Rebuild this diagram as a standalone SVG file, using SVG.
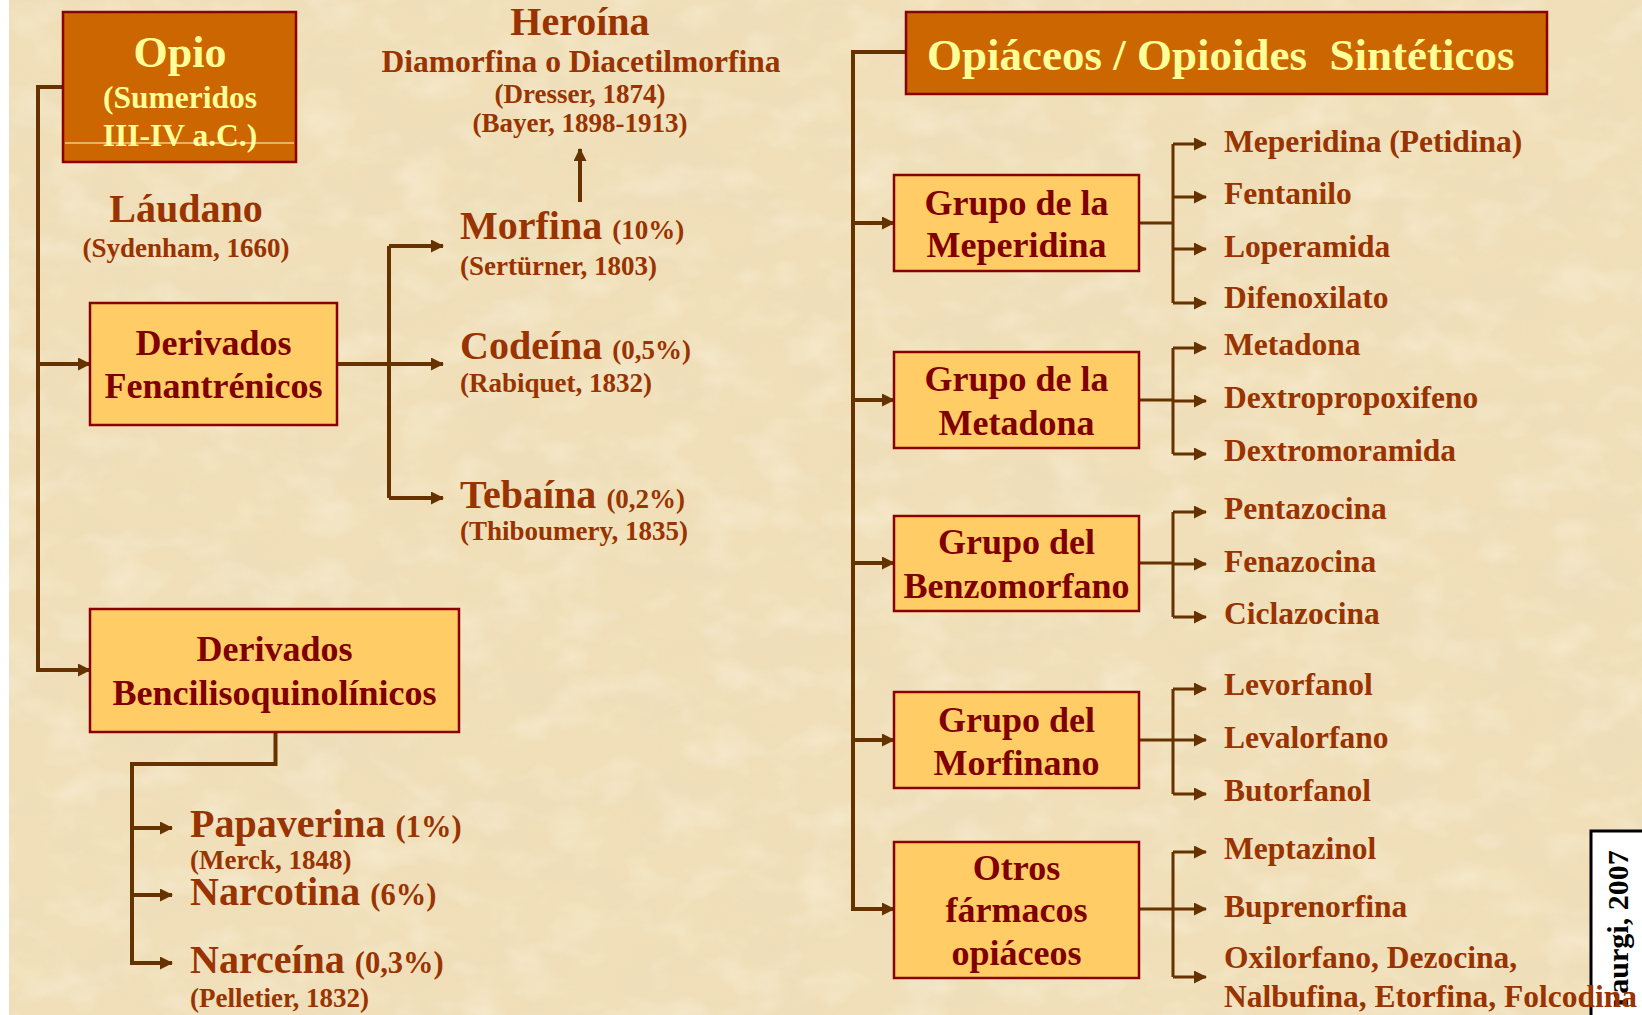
<svg xmlns="http://www.w3.org/2000/svg" width="1642" height="1015" viewBox="0 0 1642 1015">
<style>
text{font-family:"Liberation Serif","Times New Roman",serif;font-weight:bold}
.bx{fill:#FFCC66;stroke:#8B0000;stroke-width:2.5}
.dk{fill:#CC6600;stroke:#8B0000;stroke-width:2.5}
.bt{fill:#800000;font-size:36px;text-anchor:middle}
.it{fill:#993300;font-size:31.5px}
.nm{fill:#993300;font-size:40px}
.sm{fill:#993300;font-size:27px}
.mid{text-anchor:middle}
.yt{fill:#FFFF99;text-anchor:middle}
.ln{stroke:#663300;fill:none;stroke-width:4}
.br{stroke:#663300;fill:none;stroke-width:3}
.ar{marker-end:url(#ah)}
</style>
<defs>
<marker id="ah" markerWidth="14" markerHeight="14" refX="12" refY="6.5" markerUnits="userSpaceOnUse" orient="auto">
<path d="M0,0 L13,6.5 L0,13 z" fill="#663300"/>
</marker>
<filter id="paper" x="0" y="0" width="100%" height="100%">
<feTurbulence type="fractalNoise" baseFrequency="0.011 0.018" numOctaves="4" seed="7" result="n"/>
<feColorMatrix in="n" type="matrix" values="0 0 0 0 0.84  0 0 0 0 0.72  0 0 0 0 0.50  1.6 0 0 0 -0.62"/>
</filter>
<filter id="paper2" x="0" y="0" width="100%" height="100%">
<feTurbulence type="fractalNoise" baseFrequency="0.02 0.03" numOctaves="3" seed="11" result="n"/>
<feColorMatrix in="n" type="matrix" values="0 0 0 0 1  0 0 0 0 0.96  0 0 0 0 0.85  0 1.5 0 0 -0.68"/>
</filter>
</defs>
<rect x="0" y="0" width="1642" height="1015" fill="#FFFFFF"/>
<rect x="9" y="0" width="1633" height="1015" fill="#F0DFB8"/>
<rect x="9" y="0" width="1633" height="1015" filter="url(#paper)" opacity="0.75"/>
<rect x="9" y="0" width="1633" height="1015" filter="url(#paper2)" opacity="0.5"/>

<g id="connectors">
<path class="ln" d="M63,87 H38 V670 H90" marker-end="url(#ah)"/>
<path class="ln ar" d="M38,364 H90"/>
<path class="ln ar" d="M337,364 H443"/>
<path class="ln" d="M389,246 V498"/>
<path class="ln ar" d="M389,246 H443"/>
<path class="ln ar" d="M389,498 H443"/>
<path class="ln ar" d="M580,202 V149"/>
<path class="ln" d="M275.5,732 V764 H132 V963 H172" marker-end="url(#ah)"/>
<path class="ln ar" d="M132,828 H172"/>
<path class="ln ar" d="M132,895 H172"/>
<path class="ln" d="M906,52 H853 V909 H894" marker-end="url(#ah)"/>
<path class="ln ar" d="M853,223 H894"/>
<path class="ln ar" d="M853,400 H894"/>
<path class="ln ar" d="M853,563 H894"/>
<path class="ln ar" d="M853,740 H894"/>
<path class="br" d="M1139,223 H1173 M1173,144 V303"/>
<path class="br ar" d="M1173,144 H1206"/>
<path class="br ar" d="M1173,197 H1206"/>
<path class="br ar" d="M1173,249 H1206"/>
<path class="br ar" d="M1173,303 H1206"/>
<path class="br" d="M1139,400 H1173 M1173,348 V454"/>
<path class="br ar" d="M1173,348 H1206"/>
<path class="br ar" d="M1173,401 H1206"/>
<path class="br ar" d="M1173,454 H1206"/>
<path class="br" d="M1139,563 H1173 M1173,512 V617"/>
<path class="br ar" d="M1173,512 H1206"/>
<path class="br ar" d="M1173,564 H1206"/>
<path class="br ar" d="M1173,617 H1206"/>
<path class="br" d="M1139,740 H1173 M1173,689 V794"/>
<path class="br ar" d="M1173,689 H1206"/>
<path class="br ar" d="M1173,740 H1206"/>
<path class="br ar" d="M1173,794 H1206"/>
<path class="br" d="M1139,909 H1173 M1173,852 V977"/>
<path class="br ar" d="M1173,852 H1206"/>
<path class="br ar" d="M1173,909 H1206"/>
<path class="br ar" d="M1173,977 H1206"/>
</g>

<g id="opio">
<rect class="dk" x="63" y="12" width="233" height="150"/>
<text class="yt" x="180" y="67" font-size="44">Opio</text>
<text class="yt" x="180" y="108" font-size="31.5">(Sumeridos</text>
<text class="yt" x="180" y="146" font-size="31.5">III-IV a.C.)</text>
<line x1="65" y1="143" x2="294" y2="143" stroke="#FFFFCC" stroke-width="1"/>
</g>

<g id="laudano">
<text class="nm mid" x="186" y="222">Láudano</text>
<text class="sm mid" x="186" y="257">(Sydenham, 1660)</text>
</g>

<g id="heroina">
<text class="nm mid" x="580" y="35">Heroína</text>
<text class="it mid" x="581" y="72">Diamorfina o Diacetilmorfina</text>
<text class="sm mid" x="580" y="103">(Dresser, 1874)</text>
<text class="sm mid" x="580" y="132">(Bayer, 1898-1913)</text>
</g>

<g id="fenantrenicos">
<rect class="bx" x="90" y="303" width="247" height="122"/>
<text class="bt" x="213.5" y="355">Derivados</text>
<text class="bt" x="213.5" y="398">Fenantrénicos</text>
</g>

<g id="morfina">
<text class="nm" x="460" y="239">Morfina <tspan font-size="27">(10%)</tspan></text>
<text class="sm" x="460" y="275">(Sertürner, 1803)</text>
</g>
<g id="codeina">
<text class="nm" x="460" y="359">Codeína <tspan font-size="27">(0,5%)</tspan></text>
<text class="sm" x="460" y="392">(Rabiquet, 1832)</text>
</g>
<g id="tebaina">
<text class="nm" x="460" y="508">Tebaína <tspan font-size="27">(0,2%)</tspan></text>
<text class="sm" x="460" y="540">(Thiboumery, 1835)</text>
</g>

<g id="bencilisoquinolinicos">
<rect class="bx" x="90" y="609" width="369" height="123"/>
<text class="bt" x="274.5" y="661">Derivados</text>
<text class="bt" x="274.5" y="705">Bencilisoquinolínicos</text>
</g>

<g id="papaverina">
<text class="nm" x="190" y="837">Papaverina <tspan font-size="30.5">(1%)</tspan></text>
<text class="sm" x="190" y="869">(Merck, 1848)</text>
</g>
<g id="narcotina">
<text class="nm" x="190" y="905">Narcotina <tspan font-size="30.5">(6%)</tspan></text>
</g>
<g id="narceina">
<text class="nm" x="190" y="973">Narceína <tspan font-size="30.5">(0,3%)</tspan></text>
<text class="sm" x="190" y="1007">(Pelletier, 1832)</text>
</g>

<g id="sinteticos">
<rect class="dk" x="906" y="12" width="641" height="82"/>
<text x="927" y="70" fill="#FFFF99" font-size="45">Opiáceos / Opioides&#160; Sintéticos</text>
</g>

<g id="meperidina">
<rect class="bx" x="894" y="175" width="245" height="96"/>
<text class="bt" x="1016.5" y="215">Grupo de la</text>
<text class="bt" x="1016.5" y="257">Meperidina</text>
</g>
<g id="meperidina-items">
<text class="it" x="1224" y="152">Meperidina (Petidina)</text>
<text class="it" x="1224" y="204">Fentanilo</text>
<text class="it" x="1224" y="257">Loperamida</text>
<text class="it" x="1224" y="308">Difenoxilato</text>
</g>

<g id="metadona">
<rect class="bx" x="894" y="352" width="245" height="96"/>
<text class="bt" x="1016.5" y="391">Grupo de la</text>
<text class="bt" x="1016.5" y="435">Metadona</text>
</g>
<g id="metadona-items">
<text class="it" x="1224" y="355">Metadona</text>
<text class="it" x="1224" y="408">Dextropropoxifeno</text>
<text class="it" x="1224" y="461">Dextromoramida</text>
</g>

<g id="benzomorfano">
<rect class="bx" x="894" y="516" width="245" height="95"/>
<text class="bt" x="1016.5" y="554">Grupo del</text>
<text class="bt" x="1016.5" y="598">Benzomorfano</text>
</g>
<g id="benzomorfano-items">
<text class="it" x="1224" y="519">Pentazocina</text>
<text class="it" x="1224" y="572">Fenazocina</text>
<text class="it" x="1224" y="624">Ciclazocina</text>
</g>

<g id="morfinano">
<rect class="bx" x="894" y="692" width="245" height="96"/>
<text class="bt" x="1016.5" y="732">Grupo del</text>
<text class="bt" x="1016.5" y="775">Morfinano</text>
</g>
<g id="morfinano-items">
<text class="it" x="1224" y="695">Levorfanol</text>
<text class="it" x="1224" y="748">Levalorfano</text>
<text class="it" x="1224" y="801">Butorfanol</text>
</g>

<g id="otros">
<rect class="bx" x="894" y="842" width="245" height="136"/>
<text class="bt" x="1016.5" y="880">Otros</text>
<text class="bt" x="1016.5" y="922">fármacos</text>
<text class="bt" x="1016.5" y="965">opiáceos</text>
</g>

<g id="credit">
<rect x="1591" y="831" width="60" height="200" fill="#FFFFFF" stroke="#000000" stroke-width="3"/>
<text transform="translate(1628,1007) rotate(-90)" font-size="30" fill="#000000">raurgi, 2007</text>
</g>

<g id="otros-items">
<text class="it" x="1224" y="859">Meptazinol</text>
<text class="it" x="1224" y="917">Buprenorfina</text>
<text class="it" x="1224" y="968">Oxilorfano, Dezocina,</text>
<text class="it" x="1224" y="1007">Nalbufina, Etorfina, Folcodina</text>
</g>
</svg>
